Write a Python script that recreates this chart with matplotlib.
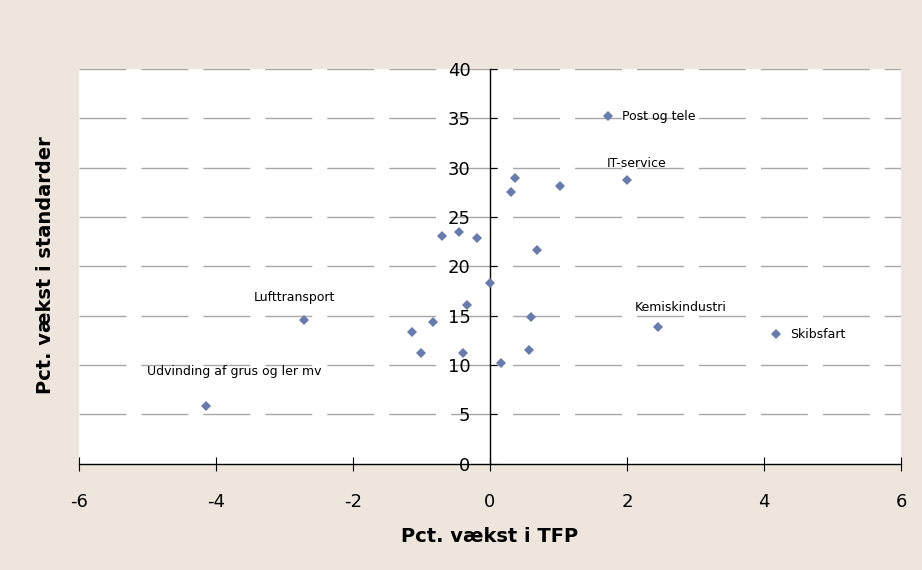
import matplotlib
matplotlib.use("Agg")
import matplotlib.pyplot as plt

# TFP growth (x) vs. growth in standards (y), one point per industry
tfp = [1.73, 2.00, 0.37, 0.31, 1.02, -0.70, -0.45, -0.19, 0.68, 0.00,
       -0.34, -0.83, -1.14, -1.00, -0.39, 0.16, 0.60, 0.57,
       -2.72, -4.15, 2.46, 4.18]
std = [35.2, 28.75, 28.9, 27.5, 28.1, 23.1, 23.5, 22.9, 21.65, 18.3,
       16.1, 14.4, 13.3, 11.2, 11.2, 10.2, 14.9, 11.5,
       14.55, 5.8, 13.8, 13.1]

# labelled industries: index into the lists above, text, offset (pt), alignment
labels = [
    (0, "Post og tele", (10, 0), "left"),
    (1, "IT-service", (7, 12), "center"),
    (18, "Lufttransport", (-6.6, 16.3), "center"),
    (19, "Udvinding af grus og ler mv", (20.4, 24.8), "center"),
    (20, "Kemiskindustri", (16, 14), "center"),
    (21, "Skibsfart", (9.6, 0), "left"),
]

xticks = [-6, -4, -2, 0, 2, 4, 6]
yticks = [0, 5, 10, 15, 20, 25, 30, 35, 40]

bg = "#EEE6DD"
marker_col = "#667BAE"

fig = plt.figure(figsize=(9.22, 5.70), dpi=100, facecolor=bg)
ax = fig.add_axes([0.0857, 0.1868, 0.8915, 0.6921])
ax.set_facecolor("white")

ax.set_xlim(-6, 6)
ax.set_ylim(0, 40)

# dashed horizontal gridlines
for yv in yticks[1:]:
    ax.axhline(yv, color="#A8A8A8", linewidth=1.0, linestyle=(0, (33.8, 10.8)), zorder=1)

ax.plot(tfp, std, linestyle="none", marker="D", markersize=5.6,
        color=marker_col, markeredgewidth=0, zorder=3)

for idx, txt, off, ha in labels:
    ax.annotate(txt, (tfp[idx], std[idx]), xytext=off, textcoords="offset points",
                ha=ha, va="center", fontsize=9, color="black", zorder=4)

# axes: y-axis crosses at x=0, x-axis at y=0
ax.spines["left"].set_position(("data", 0))
ax.spines["top"].set_visible(False)
ax.spines["right"].set_visible(False)
for s in ("left", "bottom"):
    ax.spines[s].set_linewidth(1.0)
    ax.spines[s].set_color("black")
    ax.spines[s].set_zorder(2)

ax.set_xticks(xticks)
ax.set_xticklabels([str(v) for v in xticks])
ax.set_yticks(yticks)
ax.set_yticklabels([str(v) for v in yticks])
ax.tick_params(axis="x", direction="inout", length=10, width=0.8, pad=16.5, labelsize=13)
ax.tick_params(axis="y", direction="in", length=5, width=0.8, pad=14, labelsize=13)

fig.text(0.531, 0.058, "Pct. vækst i TFP", ha="center", va="center",
         fontsize=14, fontweight="bold")
fig.text(0.049, 0.535, "Pct. vækst i standarder", ha="center", va="center",
         rotation=90, fontsize=14, fontweight="bold")

fig.savefig("out.png", dpi=100, facecolor=bg)
